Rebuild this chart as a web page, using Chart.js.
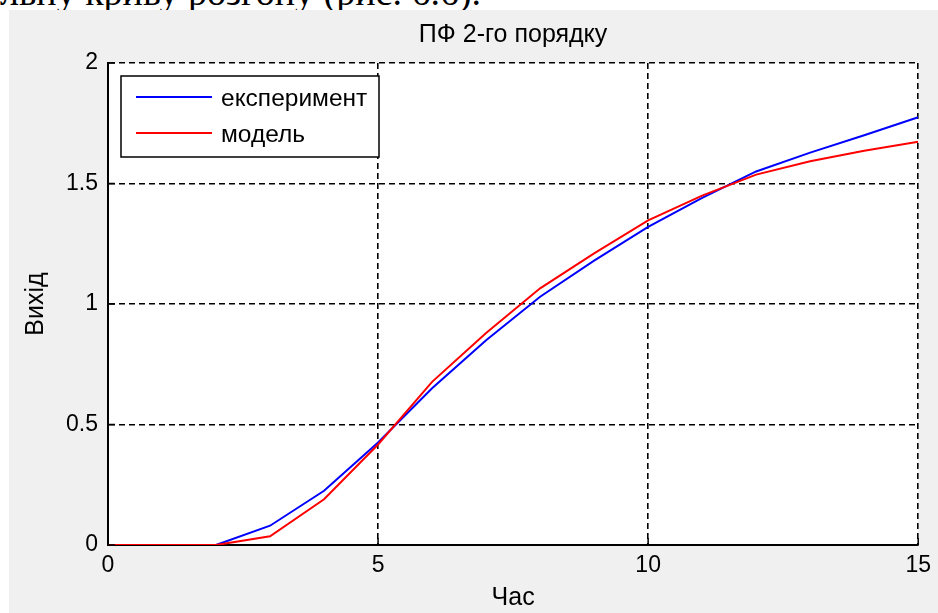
<!DOCTYPE html>
<html>
<head>
<meta charset="utf-8">
<script src="https://cdn.jsdelivr.net/npm/chart.js@4.4.0/dist/chart.umd.min.js"></script>
<style>
    body { margin: 0; background: #fff; width: 938px; height: 613px; overflow: hidden; position: relative; }
    #above { position: absolute; left: 0; top: -27px; font-family: "Liberation Serif", "Times New Roman", serif; font-size: 38px; line-height: 38px; white-space: nowrap; color: #000; }
    #panel { position: absolute; left: 9px; top: 10px; width: 929px; height: 603px; background: #f0f0f0; }
</style>
</head>
<body>
<div id="above">льну криву розгону (рис. 6.6).</div>
<div id="panel"><canvas id="pfChart" width="929" height="603"></canvas></div>
<script>
// дані
const time = [0, 1, 2, 3, 4, 5, 6, 7, 8, 9, 10, 11, 12, 13, 14, 15];
const experiment = [0, 0, 0, 0.08, 0.225, 0.425, 0.65, 0.85, 1.03, 1.18, 1.32, 1.44, 1.55, 1.628, 1.70, 1.775];
const model = [0, 0, 0, 0.036, 0.19, 0.417, 0.677, 0.88, 1.065, 1.21, 1.347, 1.45, 1.537, 1.592, 1.636, 1.673];
const xTicks = ['0', '5', '10', '15'];
const yTicks = ['0', '0.5', '1', '1.5', '2'];

const FONT = '"Liberation Sans", Arial, sans-serif';

// фон, внутрішні риски та легенда в стилі MATLAB
const matlabLook = {
    id: 'matlabLook',
    beforeDraw(chart) {
        const ctx = chart.ctx;
        const a = chart.chartArea;
        ctx.save();
        ctx.fillStyle = '#f0f0f0';
        ctx.fillRect(0, 0, chart.width, chart.height);
        ctx.fillStyle = '#ffffff';
        ctx.fillRect(a.left, a.top, a.right - a.left, a.bottom - a.top);
        ctx.restore();
    },
    afterDatasetsDraw(chart) {
        const ctx = chart.ctx;
        const a = chart.chartArea;
        const xs = chart.scales.x;
        const ys = chart.scales.y;
        ctx.save();
        ctx.strokeStyle = '#000';
        ctx.lineWidth = 1.5;
        ctx.setLineDash([]);
        xs.ticks.forEach(t => {
            const px = xs.getPixelForValue(t.value);
            ctx.beginPath();
            ctx.moveTo(px, a.bottom);
            ctx.lineTo(px, a.bottom - 7);
            ctx.stroke();
        });
        ys.ticks.forEach(t => {
            const py = ys.getPixelForValue(t.value);
            ctx.beginPath();
            ctx.moveTo(a.left, py);
            ctx.lineTo(a.left + 7, py);
            ctx.stroke();
        });

        // легенда
        const bx = a.left + 13, by = a.top + 13, bw = 258, bh = 81;
        ctx.fillStyle = '#fff';
        ctx.fillRect(bx, by, bw, bh);
        ctx.lineWidth = 1.5;
        ctx.strokeRect(bx, by, bw, bh);
        const rows = [21, 57];
        ctx.font = '24.5px ' + FONT;
        ctx.textBaseline = 'middle';
        chart.data.datasets.forEach((ds, i) => {
            const ly = by + rows[i];
            ctx.strokeStyle = ds.borderColor;
            ctx.lineWidth = 2;
            ctx.beginPath();
            ctx.moveTo(bx + 15, ly);
            ctx.lineTo(bx + 91, ly);
            ctx.stroke();
            ctx.fillStyle = '#000';
            ctx.fillText(ds.label, bx + 100, ly + 2);
        });
        ctx.restore();
    }
};

const ctx = document.getElementById('pfChart').getContext('2d');
new Chart(ctx, {
    type: 'line',
    data: {
        datasets: [{
            label: 'експеримент',
            data: time.map((t, i) => ({ x: t, y: experiment[i] })),
            borderColor: '#0000ff',
            borderWidth: 2,
            pointRadius: 0,
            tension: 0,
            order: 1
        }, {
            label: 'модель',
            data: time.map((t, i) => ({ x: t, y: model[i] })),
            borderColor: '#ff0000',
            borderWidth: 2,
            pointRadius: 0,
            tension: 0,
            order: 0
        }]
    },
    options: {
        responsive: false,
        animation: false,
        layout: { padding: { left: 0, right: 15, top: 0, bottom: 0 } },
        plugins: {
            legend: { display: false },
            tooltip: { enabled: false },
            title: {
                display: true,
                fullSize: false,
                text: 'ПФ 2-го порядку',
                color: '#000',
                font: { family: FONT, size: 25, weight: 'normal' },
                padding: { top: 10, bottom: 13 }
            }
        },
        scales: {
            x: {
                type: 'linear',
                min: 0,
                max: 15,
                afterFit(scale) { scale.height = 68; },
                afterBuildTicks(scale) {
                    scale.ticks = xTicks.map(v => ({ value: Number(v) }));
                },
                ticks: {
                    color: '#000',
                    padding: 7,
                    maxRotation: 0,
                    font: { family: FONT, size: 23 },
                    callback: (v, i) => xTicks[i]
                },
                grid: {
                    color: '#000',
                    lineWidth: 1.6,
                    drawTicks: false
                },
                border: { display: true, color: '#000', width: 2, dash: [6, 4] },
                title: {
                    display: true,
                    text: 'Час',
                    color: '#000',
                    font: { family: FONT, size: 25 },
                    padding: { top: 0, bottom: 0 }
                }
            },
            y: {
                min: 0,
                max: 2,
                afterFit(scale) { scale.width = 99; },
                afterBuildTicks(scale) {
                    scale.ticks = yTicks.map(v => ({ value: Number(v) }));
                },
                ticks: {
                    color: '#000',
                    padding: 10,
                    font: { family: FONT, size: 23 },
                    callback: (v, i) => yTicks[i]
                },
                grid: {
                    color: '#000',
                    lineWidth: 1.6,
                    drawTicks: false
                },
                border: { display: true, color: '#000', width: 2, dash: [6, 4] },
                title: {
                    display: true,
                    text: 'Вихід',
                    color: '#000',
                    font: { family: FONT, size: 25 },
                    padding: { top: 12, bottom: 0 }
                }
            }
        }
    },
    plugins: [matlabLook]
});
</script>
</body>
</html>
